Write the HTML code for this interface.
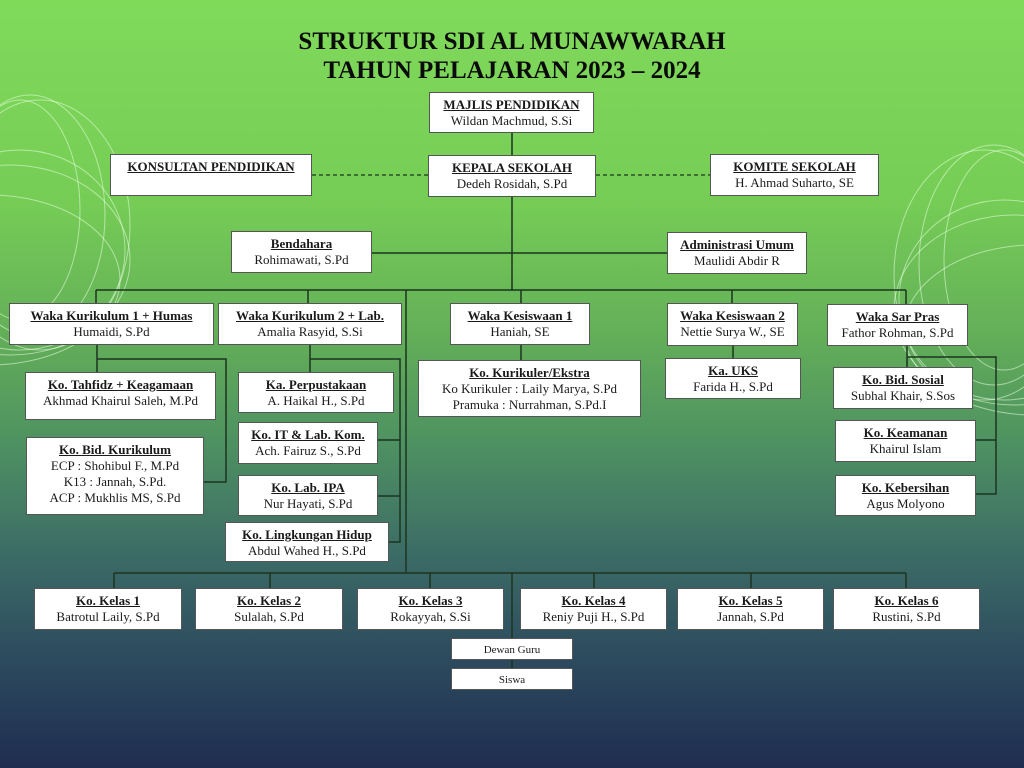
<!DOCTYPE html>
<html><head><meta charset="utf-8"><style>
html,body{margin:0;padding:0}
body{width:1024px;height:768px;position:relative;overflow:hidden;font-family:"Liberation Serif",serif;
background:linear-gradient(180deg,#80da5a 0px,#76cd56 200px,#64b058 330px,#4d8f62 450px,#3b6a66 560px,#2c4a5e 660px,#1f2d50 768px);}
.t{position:absolute;left:0;width:1024px;text-align:center;font-weight:bold;font-size:25px;color:#0a0a0a;line-height:28px}
.b{position:absolute;background:#fff;border:1px solid #555;box-sizing:border-box;text-align:center;font-size:13px;line-height:16px;color:#1a1a1a;padding-top:4px}
.b u{font-weight:bold;display:inline-block}
svg{position:absolute;left:0;top:0}
</style></head><body>
<svg width="1024" height="768">
<g fill="none" stroke="#e8ffe0" stroke-opacity="0.55" stroke-width="1">
<ellipse cx="20" cy="210" rx="60" ry="110"/>
<ellipse cx="30" cy="215" rx="75" ry="120"/>
<ellipse cx="40" cy="225" rx="90" ry="125"/>
<ellipse cx="20" cy="250" rx="105" ry="100"/>
<ellipse cx="10" cy="260" rx="120" ry="95"/>
<ellipse cx="-10" cy="280" rx="130" ry="85"/>
<ellipse cx="1004" cy="260" rx="60" ry="110"/>
<ellipse cx="994" cy="265" rx="75" ry="120"/>
<ellipse cx="984" cy="275" rx="90" ry="125"/>
<ellipse cx="1004" cy="300" rx="105" ry="100"/>
<ellipse cx="1014" cy="310" rx="120" ry="95"/>
<ellipse cx="1034" cy="330" rx="130" ry="85"/>
</g>
<g stroke="#1c3420" stroke-width="1.5" fill="none">
<path d="M512 133V290M372 253H667"/>
<path d="M96 290H906M96 290V303M308 290V303M406 290V573M521 290V303M732 290V303M906 290V304"/>
<path d="M97 345V372M97 359H226V482H204"/>
<path d="M310 345V372M310 359H400V542H389M378 440H400M378 496H400"/>
<path d="M521 345V360M733 346V358"/>
<path d="M907 346V367M907 357H996V494H976M976 440H996"/>
<path d="M114 573H906M114 573V588M270 573V588M430 573V588M512 573V668M594 573V588M751 573V588M906 573V588"/>
</g>
<g stroke="#1c3420" stroke-width="1.2" stroke-dasharray="4,3">
<path d="M312 175H428M596 175H710"/>
</g>
</svg>
<div class="t" style="top:28px">STRUKTUR SDI AL MUNAWWARAH</div>
<div class="t" style="top:57px">TAHUN PELAJARAN 2023 – 2024</div>

<div class="b" style="left:429px;top:92px;width:165px;height:41px"><u>MAJLIS PENDIDIKAN</u><br>Wildan Machmud, S.Si</div>
<div class="b" style="left:110px;top:154px;width:202px;height:42px"><u>KONSULTAN PENDIDIKAN</u></div>
<div class="b" style="left:428px;top:155px;width:168px;height:42px"><u>KEPALA SEKOLAH</u><br>Dedeh Rosidah, S.Pd</div>
<div class="b" style="left:710px;top:154px;width:169px;height:42px"><u>KOMITE SEKOLAH</u><br>H. Ahmad Suharto, SE</div>
<div class="b" style="left:231px;top:231px;width:141px;height:42px"><u>Bendahara</u><br>Rohimawati, S.Pd</div>
<div class="b" style="left:667px;top:232px;width:140px;height:42px"><u>Administrasi Umum</u><br>Maulidi Abdir R</div>

<div class="b" style="left:9px;top:303px;width:205px;height:42px"><u>Waka Kurikulum 1 + Humas</u><br>Humaidi, S.Pd</div>
<div class="b" style="left:218px;top:303px;width:184px;height:42px"><u>Waka Kurikulum 2 + Lab.</u><br>Amalia Rasyid, S.Si</div>
<div class="b" style="left:450px;top:303px;width:140px;height:42px"><u>Waka Kesiswaan 1</u><br>Haniah, SE</div>
<div class="b" style="left:667px;top:303px;width:131px;height:43px"><u>Waka Kesiswaan 2</u><br>Nettie Surya W., SE</div>
<div class="b" style="left:827px;top:304px;width:141px;height:42px"><u>Waka Sar Pras</u><br>Fathor Rohman, S.Pd</div>

<div class="b" style="left:25px;top:372px;width:191px;height:48px"><u>Ko. Tahfidz + Keagamaan</u><br>Akhmad Khairul Saleh, M.Pd</div>
<div class="b" style="left:26px;top:437px;width:178px;height:78px"><u>Ko. Bid. Kurikulum</u><br>ECP : Shohibul F., M.Pd<br>K13 : Jannah, S.Pd.<br>ACP : Mukhlis MS, S.Pd</div>
<div class="b" style="left:238px;top:372px;width:156px;height:41px"><u>Ka. Perpustakaan</u><br>A. Haikal H., S.Pd</div>
<div class="b" style="left:238px;top:422px;width:140px;height:42px"><u>Ko. IT &amp; Lab. Kom.</u><br>Ach. Fairuz S., S.Pd</div>
<div class="b" style="left:238px;top:475px;width:140px;height:41px"><u>Ko. Lab. IPA</u><br>Nur Hayati, S.Pd</div>
<div class="b" style="left:225px;top:522px;width:164px;height:40px"><u>Ko. Lingkungan Hidup</u><br>Abdul Wahed H., S.Pd</div>
<div class="b" style="left:418px;top:360px;width:223px;height:57px"><u>Ko. Kurikuler/Ekstra</u><br>Ko Kurikuler : Laily Marya, S.Pd<br>Pramuka : Nurrahman, S.Pd.I</div>
<div class="b" style="left:665px;top:358px;width:136px;height:41px"><u>Ka. UKS</u><br>Farida H., S.Pd</div>
<div class="b" style="left:833px;top:367px;width:140px;height:42px"><u>Ko. Bid. Sosial</u><br>Subhal Khair, S.Sos</div>
<div class="b" style="left:835px;top:420px;width:141px;height:42px"><u>Ko. Keamanan</u><br>Khairul Islam</div>
<div class="b" style="left:835px;top:475px;width:141px;height:41px"><u>Ko. Kebersihan</u><br>Agus Molyono</div>

<div class="b" style="left:34px;top:588px;width:148px;height:42px"><u>Ko. Kelas 1</u><br>Batrotul Laily, S.Pd</div>
<div class="b" style="left:195px;top:588px;width:148px;height:42px"><u>Ko. Kelas 2</u><br>Sulalah, S.Pd</div>
<div class="b" style="left:357px;top:588px;width:147px;height:42px"><u>Ko. Kelas 3</u><br>Rokayyah, S.Si</div>
<div class="b" style="left:520px;top:588px;width:147px;height:42px"><u>Ko. Kelas 4</u><br>Reniy Puji H., S.Pd</div>
<div class="b" style="left:677px;top:588px;width:147px;height:42px"><u>Ko. Kelas 5</u><br>Jannah, S.Pd</div>
<div class="b" style="left:833px;top:588px;width:147px;height:42px"><u>Ko. Kelas 6</u><br>Rustini, S.Pd</div>
<div class="b" style="left:451px;top:638px;width:122px;height:22px;font-size:11px;padding-top:3px">Dewan Guru</div>
<div class="b" style="left:451px;top:668px;width:122px;height:22px;font-size:11px;padding-top:3px">Siswa</div>
</body></html>
